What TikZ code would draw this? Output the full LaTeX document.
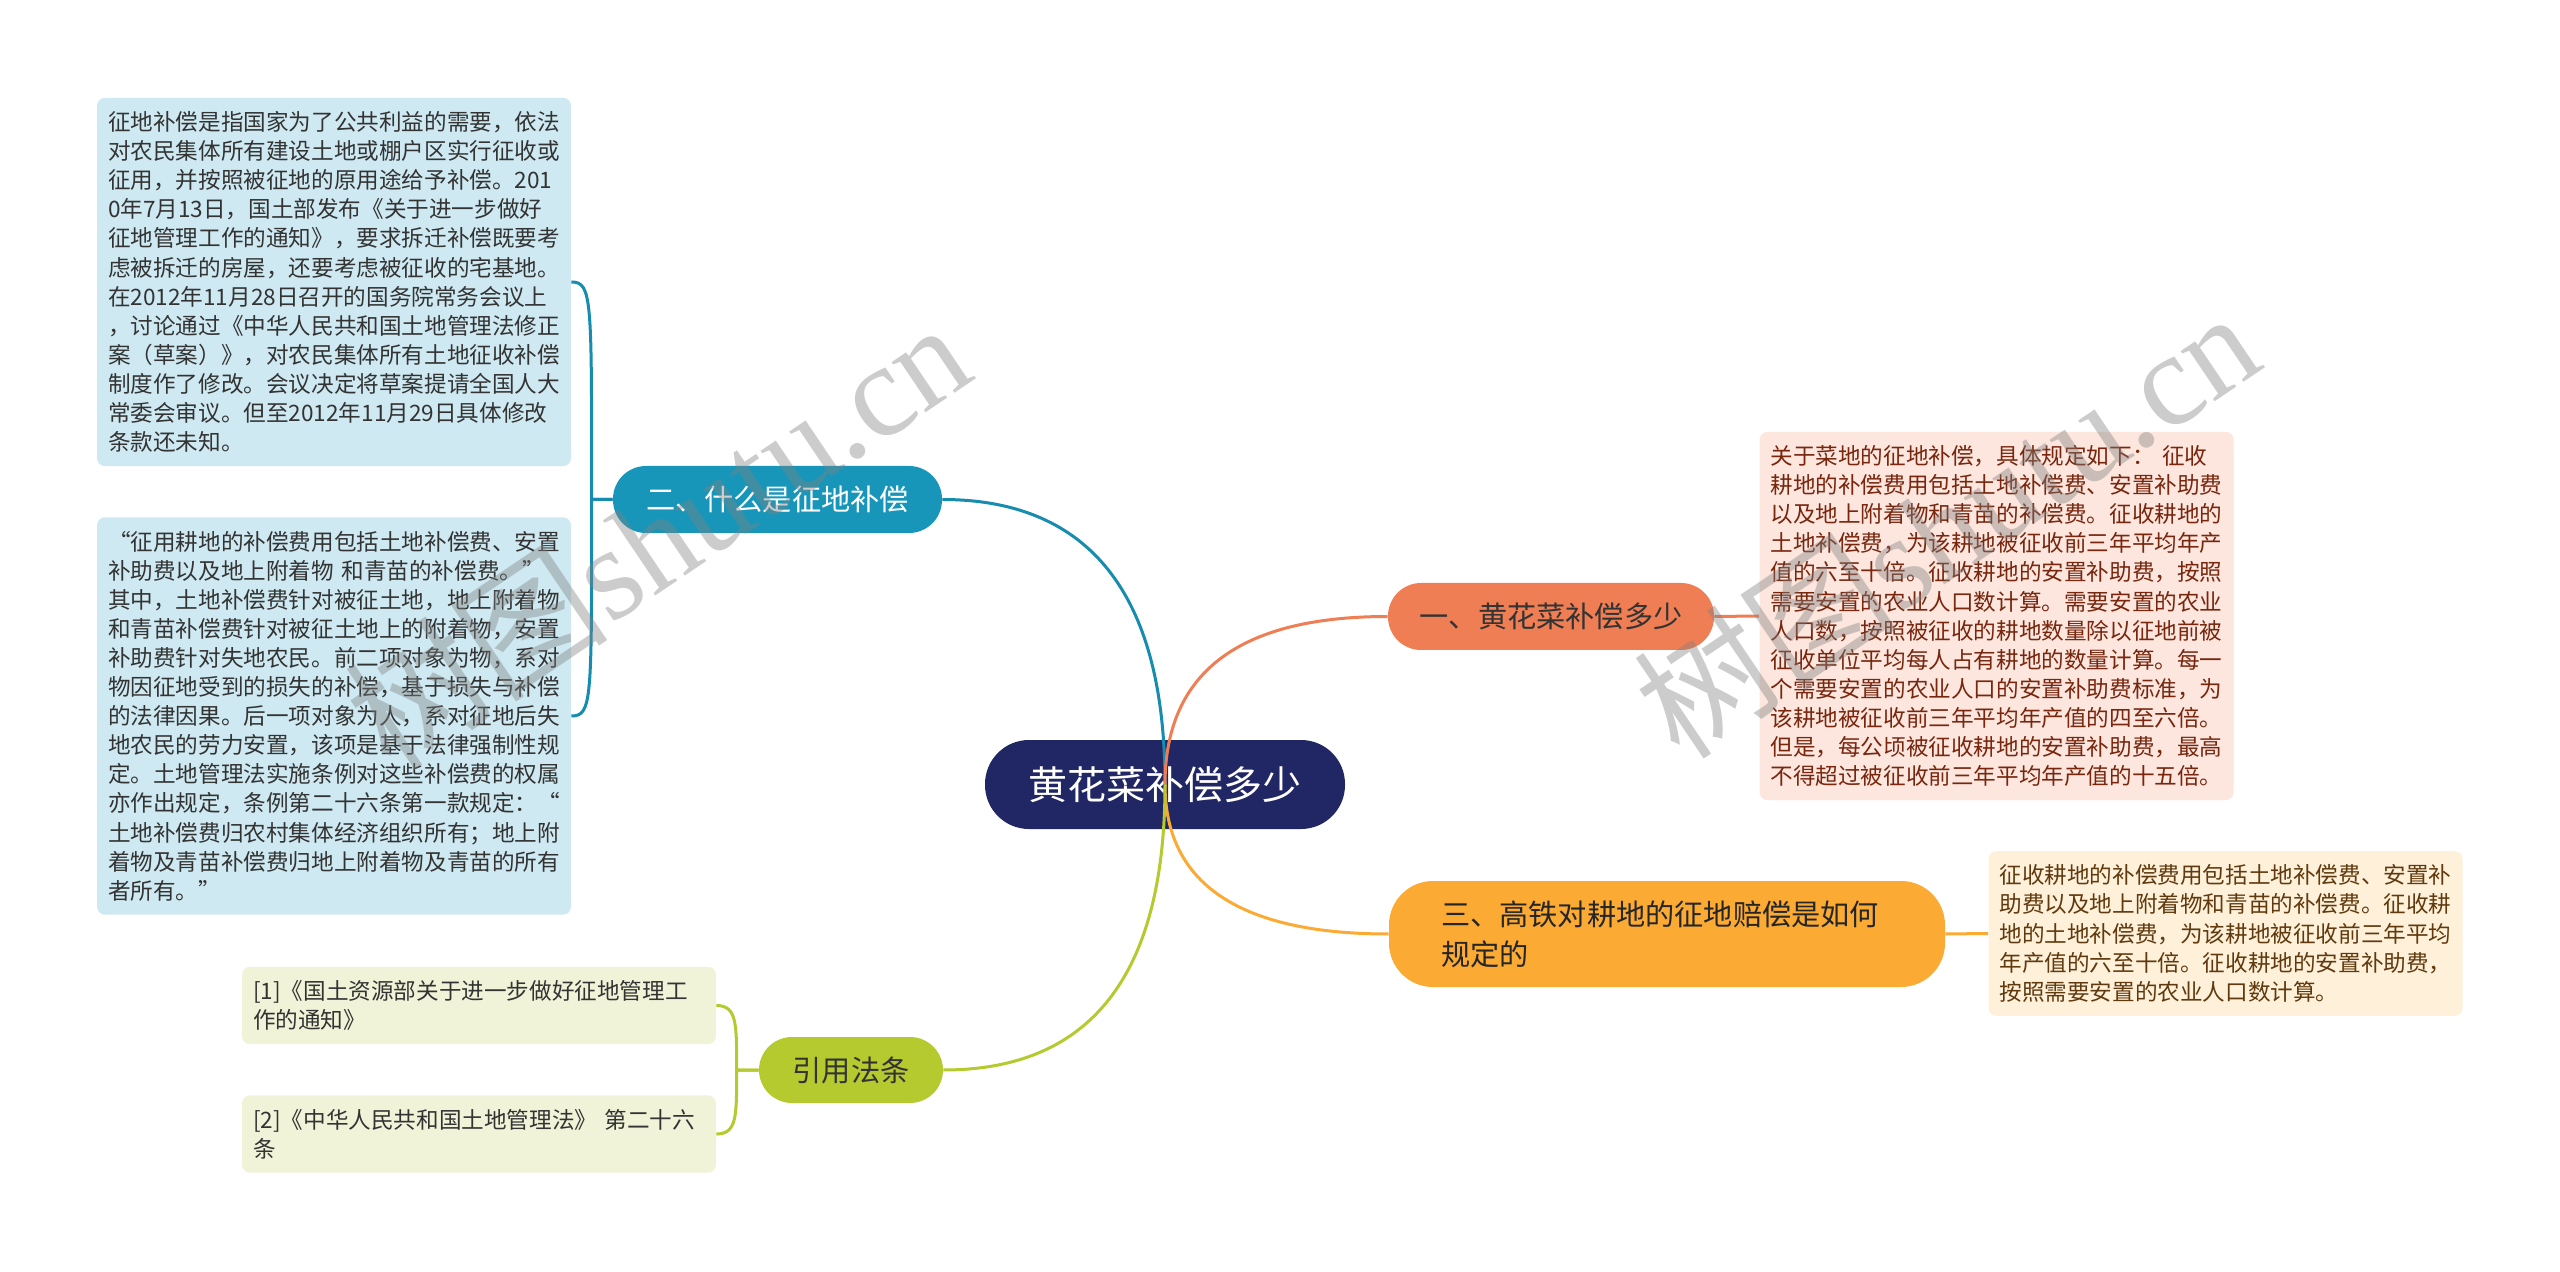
\documentclass[tikz,border=0pt]{standalone}
\usepackage{fontspec}
\setmainfont{Noto Sans CJK SC}
\newfontfamily\wmserif{Liberation Serif}
\usetikzlibrary{positioning, calc}

\definecolor{rootnavy}{RGB}{33,38,100}
\definecolor{tealfill}{RGB}{24,150,186}
\definecolor{tealline}{RGB}{22,140,174}
\definecolor{tealleaf}{RGB}{206,233,242}
\definecolor{coralfill}{RGB}{240,126,84}
\definecolor{coralleaf}{RGB}{252,230,222}
\definecolor{coraltext}{RGB}{120,38,14}
\definecolor{amberfill}{RGB}{251,170,52}
\definecolor{amberleaf}{RGB}{254,240,217}
\definecolor{ambertext}{RGB}{96,58,14}
\definecolor{limefill}{RGB}{181,202,46}
\definecolor{limeleaf}{RGB}{240,243,215}

\tikzset{
  leafbox/.style={rounded corners=4pt, inner xsep=5.5pt, inner ysep=6.8pt,
    text width=226pt, align=left, font=\fontsize{11.3pt}{14.55pt}\selectfont},
  branchbox/.style={rounded corners=16.5pt, minimum height=33.5pt,
    font=\fontsize{14.6pt}{20pt}\selectfont},
  link/.style={line width=1.5pt},
  watermark/.style={text=black!50, opacity=0.4, rotate=34,
    font=\fontsize{66pt}{66pt}\selectfont},
}

\begin{document}
\begin{tikzpicture}[x=0.5pt, y=-0.5pt]
  \fill[white] (0,0) rectangle (2560,1272);
  \useasboundingbox (0,0) rectangle (2560,1272);

  % centre
  \node[fill=rootnavy, text=white, rounded corners=22pt, minimum width=180pt,
    minimum height=44.5pt, font=\fontsize{19.5pt}{24pt}\selectfont]
    (root) at (1165,784.5) {黄花菜补偿多少};

  % branches
  \node[branchbox, fill=tealfill, text=white, minimum width=164.5pt] (two) at (777.5,499.5) {二、什么是征地补偿};
  \node[branchbox, fill=coralfill, text=black!80, minimum width=163pt] (one) at (1551,616.5) {一、黄花菜补偿多少};
  \node[branchbox, fill=amberfill, text=black!85, text width=226pt, align=left,
    inner xsep=26pt, minimum height=53pt, rounded corners=22pt]
    (three) at (1667,934) {三、高铁对耕地的征地赔偿是如何\\规定的};
  \node[branchbox, fill=limefill, text=black!80, minimum width=92pt, minimum height=33pt] (cite) at (851,1070) {引用法条};

  % leaves of branch two
  \node[leafbox, fill=tealleaf, text=black!80] (def) at (334,282) {征地补偿是指国家为了公共利益的需要，依法\\
对农民集体所有建设土地或棚户区实行征收或\\
征用，并按照被征地的原用途给予补偿。201\\
0年7月13日，国土部发布《关于进一步做好\\
征地管理工作的通知》，要求拆迁补偿既要考\\
虑被拆迁的房屋，还要考虑被征收的宅基地。\\
在2012年11月28日召开的国务院常务会议上\\
，讨论通过《中华人民共和国土地管理法修正\\
案（草案）》，对农民集体所有土地征收补偿\\
制度作了修改。会议决定将草案提请全国人大\\
常委会审议。但至2012年11月29日具体修改\\
条款还未知。};
  \node[leafbox, fill=tealleaf, text=black!80] (fees) at (334,716) {“征用耕地的补偿费用包括土地补偿费、安置\\
补助费以及地上附着物~和青苗的补偿费。”\\
其中，土地补偿费针对被征土地，地上附着物\\
和青苗补偿费针对被征土地上的附着物，安置\\
补助费针对失地农民。前二项对象为物，系对\\
物因征地受到的损失的补偿，基于损失与补偿\\
的法律因果。后一项对象为人，系对征地后失\\
地农民的劳力安置，该项是基于法律强制性规\\
定。土地管理法实施条例对这些补偿费的权属\\
亦作出规定，条例第二十六条第一款规定：“\\
土地补偿费归农村集体经济组织所有；地上附\\
着物及青苗补偿费归地上附着物及青苗的所有\\
者所有。”};

  % leaf of branch one
  \node[leafbox, fill=coralleaf, text=coraltext] (veg) at (1996.5,616) {关于菜地的征地补偿，具体规定如下：~征收\\
耕地的补偿费用包括土地补偿费、安置补助费\\
以及地上附着物和青苗的补偿费。征收耕地的\\
土地补偿费，为该耕地被征收前三年平均年产\\
值的六至十倍。征收耕地的安置补助费，按照\\
需要安置的农业人口数计算。需要安置的农业\\
人口数，按照被征收的耕地数量除以征地前被\\
征收单位平均每人占有耕地的数量计算。每一\\
个需要安置的农业人口的安置补助费标准，为\\
该耕地被征收前三年平均年产值的四至六倍。\\
但是，每公顷被征收耕地的安置补助费，最高\\
不得超过被征收前三年平均年产值的十五倍。};

  % leaf of branch three
  \node[leafbox, fill=amberleaf, text=ambertext] (rail) at (2225.5,933.5) {征收耕地的补偿费用包括土地补偿费、安置补\\
助费以及地上附着物和青苗的补偿费。征收耕\\
地的土地补偿费，为该耕地被征收前三年平均\\
年产值的六至十倍。征收耕地的安置补助费，\\
按照需要安置的农业人口数计算。};

  % cited laws
  \node[leafbox, fill=limeleaf, text=black!80] (law1) at (479,1005.5) {[1]《国土资源部关于进一步做好征地管理工\\作的通知》};
  \node[leafbox, fill=limeleaf, text=black!80] (law2) at (479,1134) {[2]《中华人民共和国土地管理法》~第二十六\\条};

  % links from the centre
  \draw[link, tealline] (root.center) .. controls +(0,-224) and +(118,0) .. (two.east);
  \draw[link, coralfill] (root.center) .. controls +(0,-133) and +(-118,0) .. (one.west);
  \draw[link, amberfill] (root.center) .. controls +(0,118) and +(-118,0) .. (three.west);
  \draw[link, limefill] (root.center) .. controls +(0,226) and +(117,0) .. (cite.east);

  % links to leaves
  \draw[link, tealline] (two.west) -- ++(-21,0) .. controls +(0,-200) and +(21,0) .. (def.east);
  \draw[link, tealline] (two.west) -- ++(-21,0) .. controls +(0,200) and +(21,0) .. (fees.east);
  \draw[link, coralfill] (one.east) -- (veg.west);
  \draw[link, amberfill] (three.east) -- (rail.west);
  \draw[link, limefill] (cite.west) -- ++(-22,0) .. controls +(0,-45) and +(21,0) .. (law1.east);
  \draw[link, limefill] (cite.west) -- ++(-22,0) .. controls +(0,45) and +(21,0) .. (law2.east);

  % watermarks
  \node[watermark] (wm-left) at (657,534) {树图{\wmserif shutu.cn}};
  \node[watermark] (wm-right) at (1946,523) {树图{\wmserif shutu.cn}};
\end{tikzpicture}
\end{document}
